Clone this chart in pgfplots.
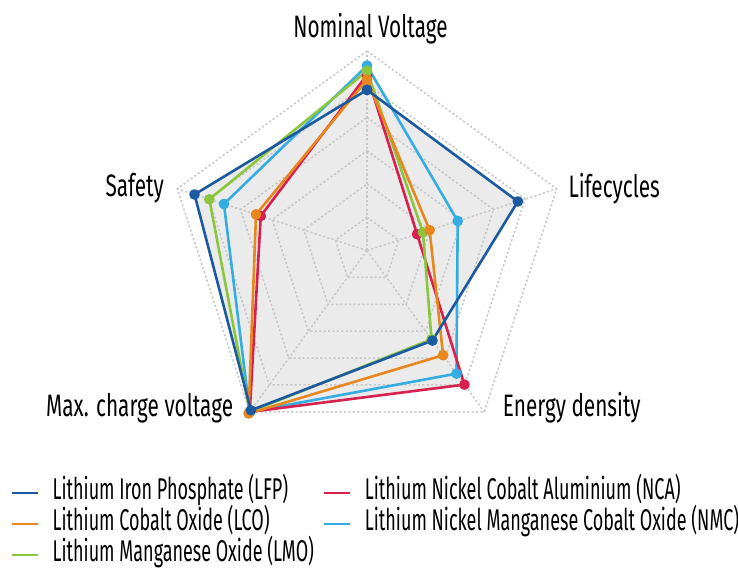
\documentclass[border=0pt]{standalone}
\usepackage{fontspec}
\setmainfont{Fira Sans}[FakeStretch=0.67]
\newfontfamily\legfont{Fira Sans}[FakeStretch=0.60]
\usepackage{pgfplots}
\usepackage{pgfplotstable}
\pgfplotsset{compat=1.18}
\definecolor{cLFP}{HTML}{1B5AA0}
\definecolor{cLCO}{HTML}{E8871E}
\definecolor{cLMO}{HTML}{8CC63F}
\definecolor{cNCA}{HTML}{D8204F}
\definecolor{cNMC}{HTML}{36ADE2}
\definecolor{gridc}{HTML}{C8C8C8}
\definecolor{fillc}{HTML}{EBEBEC}

% angle (deg) and normalised value; axes: Nominal Voltage (90), Lifecycles (18),
% Energy density (-54), Max. charge voltage (-126), Safety (-198)
\pgfplotstableread{
angle LFP   LCO   LMO   NCA   NMC
90    0.805 0.856 0.900 0.880 0.926
18    0.795 0.330 0.295 0.264 0.478
-54   0.558 0.649 0.550 0.831 0.763
-126  0.990 1.010 1.000 1.000 1.000
-198  0.909 0.585 0.831 0.560 0.754
-270  0.805 0.856 0.900 0.880 0.926
}\radar

\pgfplotstableread{
angle r1     r2     r3  r4     r5     r6
90    0.1667 0.3333 0.5 0.6667 0.8333 1
18    0.1667 0.3333 0.5 0.6667 0.8333 1
-54   0.1667 0.3333 0.5 0.6667 0.8333 1
-126  0.1667 0.3333 0.5 0.6667 0.8333 1
-198  0.1667 0.3333 0.5 0.6667 0.8333 1
-270  0.1667 0.3333 0.5 0.6667 0.8333 1
}\rings

\newcommand\lbl{\fontsize{31}{36}\selectfont}
\newcommand\leg{\legfont\fontsize{30}{34}\selectfont}

\begin{document}
\begin{tikzpicture}[x=1pt,y=1pt]
\path[use as bounding box] (0,0) rectangle (738,569);
\begin{axis}[
  at={(367pt,318.5pt)}, anchor=origin,
  x=199.5pt, y=199.5pt,
  xmin=-1.1, xmax=1.1, ymin=-1.1, ymax=1.1,
  hide axis, clip=false, data cs=polar,
  legend columns=2,
  legend cell align=left,
  legend image code/.code={\draw[#1, line width=2.8pt] (0pt,0pt) -- (26pt,0pt);},
  legend style={
    at={(-0.3116,-0.0206)}, anchor=north west,
    draw=none, fill=none, inner sep=0pt, outer sep=0pt,
    font=\leg, row sep=3pt,
    nodes={inner sep=0pt, text height=21pt, text depth=7pt},
    /tikz/every odd column/.append style={column sep=13pt},
    /tikz/every even column/.append style={column sep=9pt},
  },
  series/.style={line width=2.6pt, line join=round, mark=*, mark size=4pt, mark options={solid}},
]
% background fills
\foreach \s in {LFP,LCO,LMO,NCA,NMC}{
  \addplot[draw=none, fill=fillc, forget plot] table[x=angle, y=\s] {\radar};
}
% grid rings
\foreach \r in {r1,r2,r3,r4,r5,r6}{
  \addplot[gridc, line width=1.5pt, dash pattern=on 2.2pt off 2.2pt, forget plot] table[x=angle, y=\r] {\rings};
}
% spokes
\addplot[gridc, line width=1.5pt, dash pattern=on 2.2pt off 2.2pt, forget plot] coordinates {(90,0) (90,1)};
\addplot[gridc, line width=1.5pt, dash pattern=on 2.2pt off 2.2pt, forget plot] coordinates {(18,0) (18,1)};
\addplot[gridc, line width=1.5pt, dash pattern=on 2.2pt off 2.2pt, forget plot] coordinates {(-54,0) (-54,1)};
\addplot[gridc, line width=1.5pt, dash pattern=on 2.2pt off 2.2pt, forget plot] coordinates {(-126,0) (-126,1)};
\addplot[gridc, line width=1.5pt, dash pattern=on 2.2pt off 2.2pt, forget plot] coordinates {(-198,0) (-198,1)};
% series
\addplot[series, cNMC, forget plot] table[x=angle, y=NMC] {\radar};
\addplot[series, cNCA, forget plot] table[x=angle, y=NCA] {\radar};
\addplot[series, cLMO, forget plot] table[x=angle, y=LMO] {\radar};
\addplot[series, cLCO, forget plot] table[x=angle, y=LCO] {\radar};
\addplot[series, cLFP, forget plot] table[x=angle, y=LFP] {\radar};
% legend
\addlegendimage{cLFP}\addlegendentry{Lithium Iron Phosphate (LFP)}
\addlegendimage{cNCA}\addlegendentry{Lithium Nickel Cobalt Aluminium (NCA)}
\addlegendimage{cLCO}\addlegendentry{Lithium Cobalt Oxide (LCO)}
\addlegendimage{cNMC}\addlegendentry{Lithium Nickel Manganese Cobalt Oxide (NMC)}
\addlegendimage{cLMO}\addlegendentry{Lithium Manganese Oxide (LMO)}
\end{axis}
\node[font=\lbl, inner sep=0pt, anchor=base] at (370.5,531.7) {Nominal Voltage};
\node[font=\lbl, inner sep=0pt, anchor=base west] at (568.3,371.7) {Lifecycles};
\node[font=\lbl, inner sep=0pt, anchor=base west] at (502.7,152.3) {Energy density};
\node[font=\lbl, inner sep=0pt, anchor=base east] at (233.3,152.3) {Max. charge voltage};
\node[font=\lbl, inner sep=0pt, anchor=base east] at (164,372.3) {Safety};
\end{tikzpicture}
\end{document}
